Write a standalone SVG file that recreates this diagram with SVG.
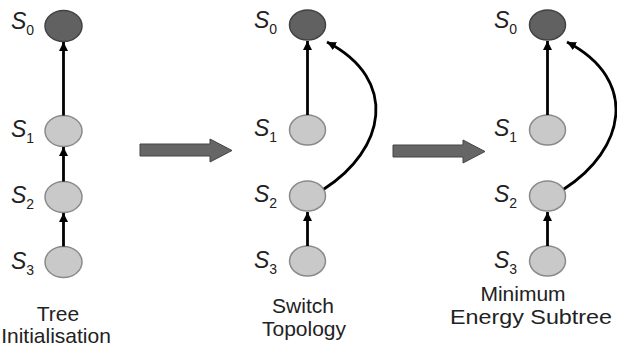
<svg xmlns="http://www.w3.org/2000/svg" width="617" height="350" viewBox="0 0 617 350">
  <defs>
    <marker id="ah" markerUnits="userSpaceOnUse" markerWidth="10" markerHeight="10" refX="9" refY="4.5" orient="auto">
      <path d="M0,0 L9,4.5 L0,9 Z" fill="#000"/>
    </marker>
  </defs>
  <style>
    .root { fill: #616161; stroke: #424242; stroke-width: 1.5; }
    .node { fill: #c9c9c9; stroke: #8a8a8a; stroke-width: 1.5; }
    .lbl { font-family: "Liberation Sans", Arial, sans-serif; font-size: 23px; font-style: italic; fill: #222; }
    .sub { font-size: 14px; font-style: normal; }
    .cap { font-family: "Liberation Sans", Arial, sans-serif; font-size: 21px; fill: #222; text-anchor: middle; }
    .edge { fill: none; stroke: #000; stroke-width: 2.8; marker-end: url(#ah); }
    .big { fill: #666; stroke: #444; stroke-width: 1; }
  </style>
  <rect width="617" height="350" fill="#fff"/>

  <!-- Panel 1 -->
  <g id="p1-s0"><ellipse class="root" cx="63.5" cy="26" rx="18.5" ry="15.5"/><text class="lbl" x="11" y="29">S<tspan class="sub" dy="6">0</tspan></text></g>
  <g id="p1-s1"><ellipse class="node" cx="63.5" cy="131" rx="18.5" ry="15.5"/><text class="lbl" x="11" y="137">S<tspan class="sub" dy="6">1</tspan></text></g>
  <g id="p1-s2"><ellipse class="node" cx="63.5" cy="197" rx="18.5" ry="15.5"/><text class="lbl" x="11" y="203">S<tspan class="sub" dy="6">2</tspan></text></g>
  <g id="p1-s3"><ellipse class="node" cx="63.5" cy="262" rx="18.5" ry="15.5"/><text class="lbl" x="11" y="269">S<tspan class="sub" dy="6">3</tspan></text></g>
  <g id="p1-caption"><text class="cap" x="58" y="321">Tree</text><text class="cap" x="56" y="343">Initialisation</text></g>

  <!-- Panel 2 -->
  <g id="p2-s0"><ellipse class="root" cx="307.5" cy="25" rx="18" ry="15"/><text class="lbl" x="254" y="28">S<tspan class="sub" dy="6">0</tspan></text></g>
  <g id="p2-s1"><ellipse class="node" cx="307.5" cy="130" rx="18" ry="15"/><text class="lbl" x="254" y="136">S<tspan class="sub" dy="6">1</tspan></text></g>
  <g id="p2-s2"><ellipse class="node" cx="307.5" cy="196" rx="18" ry="15"/><text class="lbl" x="254" y="202">S<tspan class="sub" dy="6">2</tspan></text></g>
  <g id="p2-s3"><ellipse class="node" cx="307.5" cy="261" rx="18" ry="15"/><text class="lbl" x="254" y="268">S<tspan class="sub" dy="6">3</tspan></text></g>
  <g id="p2-caption"><text class="cap" x="303" y="313">Switch</text><text class="cap" x="304" y="336">Topology</text></g>

  <!-- Panel 3 -->
  <g id="p3-s0"><ellipse class="root" cx="547.5" cy="25" rx="18" ry="15"/><text class="lbl" x="494" y="28">S<tspan class="sub" dy="6">0</tspan></text></g>
  <g id="p3-s1"><ellipse class="node" cx="547.5" cy="130" rx="18" ry="15"/><text class="lbl" x="494" y="136">S<tspan class="sub" dy="6">1</tspan></text></g>
  <g id="p3-s2"><ellipse class="node" cx="547.5" cy="196" rx="18" ry="15"/><text class="lbl" x="494" y="202">S<tspan class="sub" dy="6">2</tspan></text></g>
  <g id="p3-s3"><ellipse class="node" cx="547.5" cy="261" rx="18" ry="15"/><text class="lbl" x="494" y="268">S<tspan class="sub" dy="6">3</tspan></text></g>
  <g id="p3-caption"><text class="cap" x="523" y="301">Minimum</text><text class="cap" x="531" y="324" textLength="162" lengthAdjust="spacingAndGlyphs">Energy Subtree</text></g>

  <!-- Transition arrows -->
  <g id="transitions">
    <polygon class="big" points="140,144 210,144 210,139 232,150.5 210,162 210,156 140,156"/>
    <polygon class="big" points="393,145 463,145 463,140 485,151.5 463,163 463,157 393,157"/>
  </g>

  <!-- Connectors -->
  <g id="connectors">
    <line class="edge" x1="63.5" y1="115.5" x2="63.5" y2="42"/>
    <line class="edge" x1="63.5" y1="181.5" x2="63.5" y2="147"/>
    <line class="edge" x1="63.5" y1="246.5" x2="63.5" y2="213"/>

    <line class="edge" x1="307.5" y1="115" x2="307.5" y2="41"/>
    <line class="edge" x1="307.5" y1="246" x2="307.5" y2="212"/>
    <path class="edge" d="M324,189 C385,150 400,80 327,42"/>

    <line class="edge" x1="547.5" y1="115" x2="547.5" y2="41"/>
    <line class="edge" x1="547.5" y1="246" x2="547.5" y2="212"/>
    <path class="edge" d="M564,189 C625,150 640,80 567,42"/>
  </g>
</svg>
